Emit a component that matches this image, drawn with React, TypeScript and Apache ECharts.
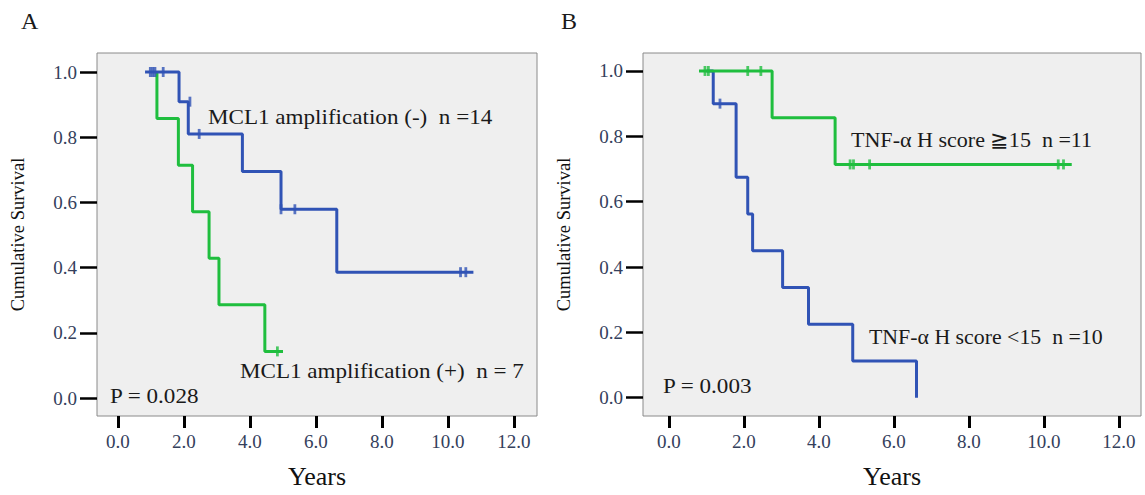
import React, { useEffect, useRef } from "react";
import * as echarts from "echarts";

// Panel A: MCL1 amplification (-) (blue) and (+) (green)
const aBlueT = [0.82, 1.85, 2.13, 3.77, 4.94, 6.63, 10.77];
const aBlueS = [1.0, 0.909, 0.81, 0.695, 0.579, 0.386, 0.386];
const aBlueCensT = [0.98, 1.05, 1.12, 1.37, 2.18, 2.46, 4.94, 5.36, 10.38, 10.54];
const aBlueCensS = [1, 1, 1, 1, 0.909, 0.81, 0.579, 0.579, 0.386, 0.386];
const aGreenT = [1.18, 1.18, 1.83, 2.26, 2.76, 3.06, 4.45, 5.0];
const aGreenS = [1.0, 0.857, 0.714, 0.571, 0.429, 0.286, 0.143, 0.143];
const aGreenCensT = [4.83];
const aGreenCensS = [0.143];

// Panel B: TNF-α H score ≧15 (green) and <15 (blue)
const bGreenT = [0.8, 2.75, 4.43, 10.74];
const bGreenS = [1.0, 0.857, 0.714, 0.714];
const bGreenCensT = [0.96, 1.05, 2.1, 2.45, 4.83, 4.92, 5.35, 10.38, 10.52];
const bGreenCensS = [1, 1, 1, 1, 0.714, 0.714, 0.714, 0.714, 0.714];
const bBlueT = [1.0, 1.18, 1.79, 2.1, 2.23, 3.03, 3.72, 4.9, 6.6];
const bBlueS = [1.0, 0.9, 0.675, 0.5625, 0.45, 0.3375, 0.225, 0.1125, 0];
const bBlueCensT = [1.36];
const bBlueCensS = [0.9];

const xTicks = [0, 2, 4, 6, 8, 10, 12];
const yTicks = [0, 0.2, 0.4, 0.6, 0.8, 1.0];

const BLUE = "#3053b5";
const GREEN = "#1fbe3e";
const SERIF = "Liberation Serif";
const LABEL_COLOR = "#34405c";

const zip = (t: number[], s: number[]) => t.map((v, i) => [v, s[i]]);

function xAxisCfg(gridIndex: number, min: number, max: number) {
  return {
    type: "value",
    gridIndex,
    min,
    max,
    name: "Years",
    nameLocation: "middle",
    nameGap: 47,
    nameTextStyle: { fontFamily: SERIF, fontSize: 26, color: "#111" },
    axisLine: { show: false, onZero: false },
    splitLine: { show: false },
    axisTick: {
      show: true,
      inside: false,
      length: 12,
      customValues: xTicks,
      lineStyle: { color: "#000", width: 3 },
    },
    axisLabel: {
      show: true,
      customValues: xTicks,
      margin: 16,
      fontFamily: SERIF,
      fontSize: 19,
      color: LABEL_COLOR,
      formatter: (v: number) => v.toFixed(1),
    },
  };
}

function yAxisCfg(gridIndex: number, min: number, max: number) {
  return {
    type: "value",
    gridIndex,
    min,
    max,
    name: "Cumulative Survival",
    nameLocation: "middle",
    nameGap: 70,
    nameTextStyle: { fontFamily: SERIF, fontSize: 18.5, color: "#111" },
    axisLine: { show: false, onZero: false },
    splitLine: { show: false },
    axisTick: {
      show: true,
      inside: false,
      length: 17,
      customValues: yTicks,
      lineStyle: { color: "#000", width: 2.5 },
    },
    axisLabel: {
      show: true,
      customValues: yTicks,
      margin: 20,
      fontFamily: SERIF,
      fontSize: 19,
      color: LABEL_COLOR,
      formatter: (v: number) => v.toFixed(1),
    },
  };
}

function stepSeries(idx: number, data: number[][], color: string, z: number) {
  return {
    type: "line",
    xAxisIndex: idx,
    yAxisIndex: idx,
    data,
    step: "end",
    showSymbol: false,
    symbol: "none",
    lineStyle: { color, width: 3 },
    z,
    silent: true,
  };
}

function censSeries(idx: number, data: number[][], color: string, z: number) {
  return {
    type: "scatter",
    xAxisIndex: idx,
    yAxisIndex: idx,
    data,
    symbol: "rect",
    symbolSize: [2.8, 10],
    itemStyle: { color },
    z,
    silent: true,
  };
}

function txt(text: string, x: number, y: number, size: number, sx = 1) {
  return {
    type: "text",
    x,
    y,
    scaleX: sx,
    style: {
      text,
      fontFamily: SERIF,
      fontSize: size,
      fill: "#1a1a1a",
      verticalAlign: "middle",
      align: "left",
    },
    z: 100,
  };
}

export default function App() {
  const ref = useRef<HTMLDivElement>(null);
  useEffect(() => {
    if (!ref.current) return;
    const chart = echarts.init(ref.current, null, { renderer: "svg" });
    chart.setOption({
      animation: false,
      backgroundColor: "#ffffff",
      textStyle: { fontFamily: SERIF },
      grid: [
        {
          left: 97,
          top: 53,
          width: 440,
          height: 363,
          show: true,
          backgroundColor: "#efefef",
          borderColor: "#8a8a8a",
          borderWidth: 1,
        },
        {
          left: 643,
          top: 53,
          width: 498,
          height: 363,
          show: true,
          backgroundColor: "#efefef",
          borderColor: "#8a8a8a",
          borderWidth: 1,
        },
      ],
      xAxis: [xAxisCfg(0, -0.636, 12.697), xAxisCfg(1, -0.693, 12.587)],
      yAxis: [yAxisCfg(0, -0.0552, 1.0583), yAxisCfg(1, -0.056, 1.055)],
      series: [
        stepSeries(0, zip(aGreenT, aGreenS), GREEN, 2),
        censSeries(0, zip(aGreenCensT, aGreenCensS), GREEN, 3),
        stepSeries(0, zip(aBlueT, aBlueS), BLUE, 4),
        censSeries(0, zip(aBlueCensT, aBlueCensS), BLUE, 5),
        stepSeries(1, zip(bBlueT, bBlueS), BLUE, 2),
        censSeries(1, zip(bBlueCensT, bBlueCensS), BLUE, 3),
        stepSeries(1, zip(bGreenT, bGreenS), GREEN, 4),
        censSeries(1, zip(bGreenCensT, bGreenCensS), GREEN, 5),
      ],
      graphic: [
        txt("A", 21, 21, 24),
        txt("B", 561, 21, 24),
        txt("MCL1 amplification (-)  n =14", 208, 117, 21, 1.1),
        txt("MCL1 amplification (+)  n = 7", 240, 371, 21, 1.1),
        txt("P = 0.028", 110, 396, 21, 1.1),
        txt("TNF-α H score ≧15  n =11", 851, 140, 21, 1.05),
        txt("TNF-α H score <15  n =10", 869, 337, 21, 1.04),
        txt("P = 0.003", 663, 386, 21, 1.1),
      ],
    });
    return () => chart.dispose();
  }, []);
  return (
    <div
      ref={ref}
      style={{ position: "absolute", left: 0, top: 0, width: 1145, height: 495 }}
    />
  );
}
